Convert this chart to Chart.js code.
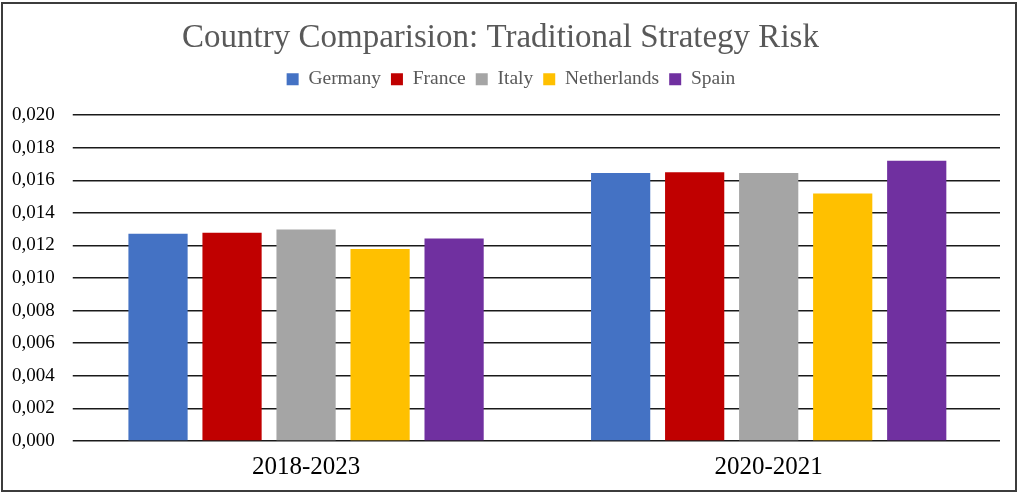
<!DOCTYPE html>
<html>
<head>
<meta charset="utf-8">
<script src="https://cdn.jsdelivr.net/npm/chart.js@4/dist/chart.umd.min.js"></script>
<style>
    html, body { margin: 0; padding: 0; background: #fff; }
    #wrap { position: relative; width: 1018px; height: 493px; }
    #wrap canvas { position: absolute; left: 0; top: 0; }
    #frame {
        position: absolute; left: 1px; top: 2px; width: 1016px; height: 490px;
        box-sizing: border-box; border: 2px solid #3c3c3c; pointer-events: none;
    }
</style>
</head>
<body>
<div id="wrap">
    <canvas id="chartRisco" width="1018" height="493"></canvas>
    <div id="frame"></div>
</div>
<script>
var periodos = ["2018-2023", "2020-2021"];
var paises = ["Germany", "France", "Italy", "Netherlands", "Spain"];
var cores = ["#4472C4", "#C00000", "#A5A5A5", "#FFC000", "#7030A0"];

var germany = [0.01272, 0.01644];
var france = [0.01278, 0.01650];
var italy = [0.01298, 0.01644];
var netherlands = [0.01179, 0.01519];
var spain = [0.01243, 0.01720];

var valores = [germany, france, italy, netherlands, spain];
var yTicks = [0, 0.002, 0.004, 0.006, 0.008, 0.010, 0.012, 0.014, 0.016, 0.018, 0.020];

var serif = "'Liberation Serif', 'Times New Roman', serif";

var datasets = paises.map(function (nome, i) {
    return {
        label: nome,
        data: valores[i],
        backgroundColor: cores[i],
        borderWidth: 0,
        barPercentage: 0.8,
        categoryPercentage: 0.8
    };
});

// espaço extra entre a legenda e a área do gráfico; título e legenda um pouco à direita
var legendGap = {
    id: "legendGap",
    beforeInit: function (chart) {
        var fitOriginal = chart.legend.fit;
        chart.legend.fit = function () {
            fitOriginal.bind(chart.legend)();
            this.height += 16;
        };
    },
    afterLayout: function (chart) {
        chart.legend.left += 28;
        chart.titleBlock.left += 7;
    }
};

new Chart(document.getElementById("chartRisco").getContext("2d"), {
    type: "bar",
    data: { labels: periodos, datasets: datasets },
    plugins: [legendGap],
    options: {
        responsive: false,
        animation: false,
        layout: { padding: { left: -6, right: 18, top: 19, bottom: 0 } },
        plugins: {
            title: {
                display: true,
                text: "Country Comparision: Traditional Strategy Risk",
                color: "#595959",
                font: { family: serif, size: 33, weight: "normal" },
                padding: { top: 0, bottom: 1 }
            },
            legend: {
                position: "top",
                labels: {
                    color: "#595959",
                    font: { family: serif, size: 19.5 },
                    boxWidth: 12,
                    boxHeight: 12,
                    padding: 10
                }
            },
            tooltip: { enabled: false }
        },
        scales: {
            x: {
                grid: { display: false, drawTicks: false },
                border: { display: false },
                ticks: {
                    color: "#000",
                    font: { family: serif, size: 25 },
                    padding: 11
                }
            },
            y: {
                min: 0,
                max: 0.020,
                afterBuildTicks: function (axis) {
                    axis.ticks = yTicks.map(function (v) { return { value: v }; });
                },
                ticks: {
                    color: "#000",
                    font: { family: serif, size: 19 },
                    padding: 18,
                    callback: function (v) { return v.toFixed(3).replace(".", ","); }
                },
                grid: { color: "#1a1a1a", lineWidth: 1.5, tickLength: 2 },
                border: { display: false }
            }
        }
    }
});
</script>
</body>
</html>
